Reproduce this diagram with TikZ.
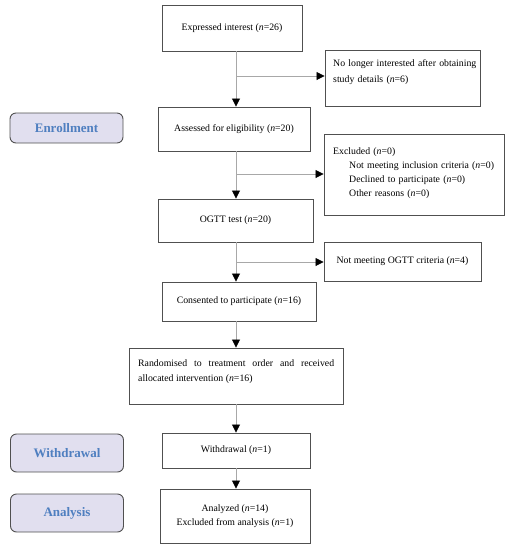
\documentclass[tikz,border=0pt]{standalone}
\usepackage{fontspec}
\setmainfont{Liberation Serif}
\usetikzlibrary{arrows.meta}
\definecolor{boxline}{HTML}{505050}
\definecolor{connc}{HTML}{A8A8A8}
\definecolor{lav}{HTML}{E1DFEF}
\definecolor{lblue}{HTML}{4F7FC0}
\tikzset{
  box/.style={draw=boxline, line width=0.9pt, inner sep=0pt, align=center,
    font=\fontsize{9.8}{14}\selectfont},
  txt/.style={inner sep=0pt, anchor=north west, font=\fontsize{9.8}{14.3}\selectfont},
  stage/.style={draw=boxline, line width=0.9pt, fill=lav, rounded corners=6pt,
    minimum width=113pt, text=lblue, font=\fontsize{13}{15}\selectfont\bfseries},
  conn/.style={draw=connc, line width=0.8pt},
  arr/.style={conn, -{Triangle[length=8pt,width=8pt,fill=black,color=black]}}
}
\begin{document}
\begin{tikzpicture}[x=1pt,y=-1pt]
\useasboundingbox (0,0) rectangle (511,550);
% main boxes
\node[box, minimum width=140pt, minimum height=46pt] (b1) at (232,28) {Expressed interest (\textit{n}=26)};
\node[box, minimum width=155pt, minimum height=56pt] (b2) at (402.5,78) {};
\node[txt, text width=150pt, font=\fontsize{9.8}{16}\selectfont] (t2) at (333,59) {No longer interested after obtaining\\study details (\textit{n}=6)};
\node[box, minimum width=152pt, minimum height=44pt] (b3) at (234,129) {Assessed for eligibility (\textit{n}=20)};
\node[box, minimum width=180pt, minimum height=81pt] (b4) at (414,174.5) {};
\node[txt, text width=175pt, align=left] (t4) at (333,147) {Excluded (\textit{n}=0)\\
\hspace*{16pt}Not meeting inclusion criteria (\textit{n}=0)\\
\hspace*{16pt}Declined to participate (\textit{n}=0)\\
\hspace*{16pt}Other reasons (\textit{n}=0)};
\node[box, minimum width=155pt, minimum height=43pt] (b5) at (235.5,220.5) {OGTT test (\textit{n}=20)};
\node[box, minimum width=157pt, minimum height=39pt] (b6) at (402.5,261.5) {Not meeting OGTT criteria (\textit{n}=4)};
\node[box, minimum width=154pt, minimum height=39pt] (b7) at (239,301.5) {Consented to participate (\textit{n}=16)};
\node[box, minimum width=214pt, minimum height=56pt] (b8) at (236,376) {};
\node[txt, align=left, font=\fontsize{9.8}{15}\selectfont] (t8) at (138,359.5) {\makebox[196pt][s]{Randomised to treatment order and received}\\allocated intervention (\textit{n}=16)};
\node[box, minimum width=148pt, minimum height=35pt] (b9) at (236,450.5) {Withdrawal (\textit{n}=1)};
\node[box, minimum width=150pt, minimum height=54pt] (b10) at (235,516) {Analyzed (\textit{n}=14)\\Excluded from analysis (\textit{n}=1)};
% stage labels
\node[stage, minimum height=30pt] (s1) at (66.5,128) {Enrollment};
\node[stage, minimum height=38pt] (s2) at (67,453) {Withdrawal};
\node[stage, minimum height=38pt] (s3) at (67,513) {Analysis};
% connectors
\coordinate (v1) at (236,76);
\coordinate (v2) at (236,174);
\coordinate (v3) at (236,262);
\draw[arr] (b1.south -| v1) -- (b3.north -| v1);
\draw[arr] (v1) -- (v1 -| b2.west);
\draw[arr] (b3.south -| v2) -- (b5.north -| v2);
\draw[arr] (v2) -- (v2 -| b4.west);
\draw[arr] (b5.south -| v3) -- (b7.north -| v3);
\draw[arr] (v3) -- (v3 -| b6.west);
\draw[arr] (b7.south -| v3) -- (b8.north -| v3);
\draw[arr] (b8.south -| v3) -- (b9.north -| v3);
\draw[arr] (b9.south -| v3) -- (b10.north -| v3);
\end{tikzpicture}
\end{document}
